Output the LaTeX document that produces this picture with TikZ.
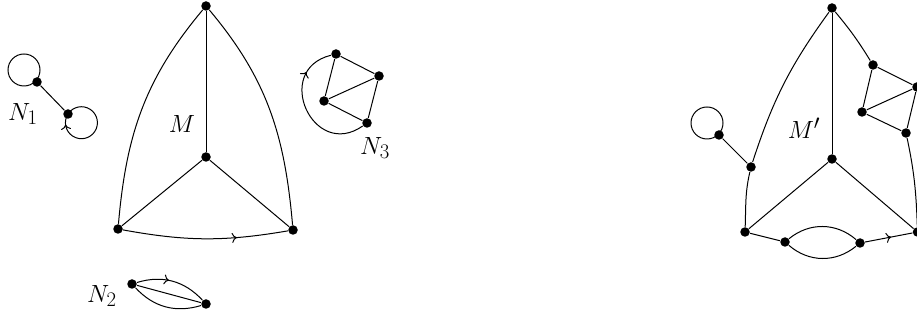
\RequirePackage{fix-cm}
\documentclass[tikz,border=0pt]{standalone}
\usetikzlibrary{arrows.meta,decorations.markings}
\tikzset{cmr/.tip={Computer Modern Rightarrow[length=5pt,width=10pt]}}
\begin{document}
\begin{tikzpicture}[x=1pt,y=1pt,line width=1pt,
  dot/.style={circle,fill=black,inner sep=0pt,minimum size=9.5pt},
  lbl/.style={inner sep=0pt,font=\Huge},
  marrow/.style={postaction={decorate},decoration={markings,mark=at position #1 with {\arrow{cmr}}}}]
\useasboundingbox (0,0) rectangle (917,320);
% ---------- M ----------
\node[dot] (T) at (206,314) {};
\node[dot] (C) at (206,163) {};
\node[dot] (BL) at (118,91) {};
\node[dot] (BR) at (293,90) {};
\node[lbl] (lM) at (182,196) {$M$};
\draw (T) -- (C);
\draw (C) -- (BL);
\draw (C) -- (BR);
\draw (T) to[out=230,in=85] (BL);
\draw (T) to[out=-50,in=95] (BR);
\draw[marrow=0.69] (BL) to[bend right=10] (BR);
% ---------- N1 ----------
\node[dot] (a) at (37,238) {};
\node[dot] (b) at (68,206) {};
\node[lbl] (lN1) at (23,206) {$N_1$};
\draw (a) -- (b);
\draw (a.center) ++(-13,12) circle[radius=16];
\draw[marrow=0.89] (b.center) arc[start angle=147,delta angle=-360,radius=16];
% ---------- N2 ----------
\node[dot] (q1) at (132,36) {};
\node[dot] (q2) at (206,16) {};
\node[lbl] (lN2) at (102,24) {$N_2$};
\draw (q1) -- (q2);
\draw[marrow=0.45] (q1) to[bend left=32] (q2);
\draw (q1) to[bend right=32] (q2);
% ---------- N3 ----------
\node[dot] (p1) at (336,266) {};
\node[dot] (p2) at (379,244) {};
\node[dot] (p3) at (324,219) {};
\node[dot] (p4) at (367,197) {};
\node[lbl] (lN3) at (375,172) {$N_3$};
\draw (p1) -- (p2) -- (p3) -- (p4) -- (p2);
\draw (p1) -- (p3);
\draw[marrow=0.78] (p4) to[out=215,in=194,looseness=2] (p1);
% ---------- M' ----------
\node[dot] (Tp) at (832,312) {};
\node[dot] (Cp) at (832,161) {};
\node[dot] (BLp) at (745,88) {};
\node[dot] (BRp) at (917.5,88) {};
\node[dot] (L1) at (751,153) {};
\node[dot] (P) at (719,185) {};
\node[dot] (D1) at (785,78) {};
\node[dot] (D2) at (860,77) {};
\node[dot] (R1) at (873,255) {};
\node[dot] (R2) at (917,233) {};
\node[dot] (R3) at (862,208) {};
\node[dot] (R4) at (906,187) {};
\node[lbl] (lMp) at (804,192) {$M'$};
\draw (Tp) -- (Cp);
\draw (Cp) -- (BLp);
\draw (Cp) -- (BRp);
\draw (Tp) to[out=234,in=72] (L1);
\draw (L1) to[out=257,in=88] (BLp);
\draw (L1) -- (P);
\draw (P.center) ++(-12,12) circle[radius=16];
\draw (BLp) -- (D1);
\draw (D1) to[bend left=40] (D2);
\draw (D1) to[bend right=40] (D2);
\draw[marrow=0.55] (D2) -- (BRp);
\draw (Tp) to[bend left=4] (R1);
\draw (R1) -- (R2) -- (R3) -- (R4) -- (R2);
\draw (R1) -- (R3);
\draw (R4) to[out=-78,in=92] (BRp);
\end{tikzpicture}
\end{document}
